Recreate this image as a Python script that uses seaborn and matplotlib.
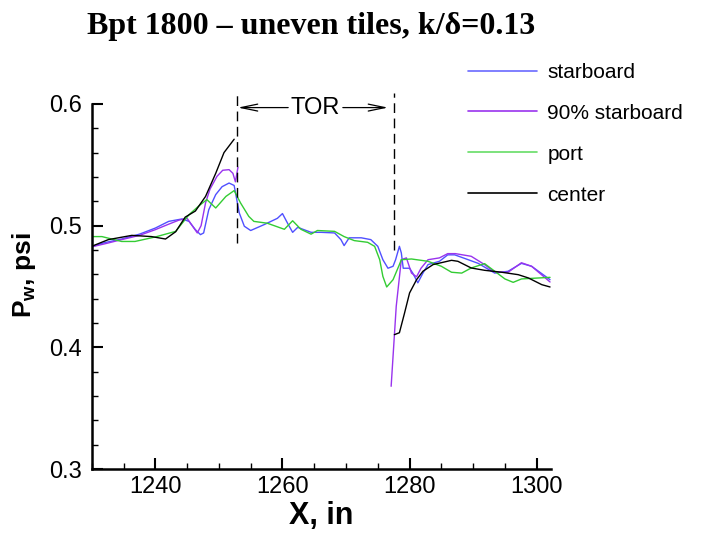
import numpy as np
import pandas as pd
import matplotlib
matplotlib.use("Agg")
import matplotlib.pyplot as plt
from matplotlib.ticker import MultipleLocator
from matplotlib.lines import Line2D
import seaborn as sns

# ---------------- data ----------------
title = "Bpt 1800 \u2013 uneven tiles, k/\u03b4=0.13"
series_names = ["starboard", "90% starboard", "port", "center"]
colors = ["#5050ff", "#9933ee", "#33cc33", "#000000"]
legend_colors = ["#6a6aff", "#9933ee", "#66dd66", "#000000"]

starboard_x = [1229.5, 1232, 1234.7, 1237.5, 1240, 1242.1, 1244.2, 1245.3, 1246.3, 1247.1, 1247.6,
               1248.4, 1249.5, 1250.5, 1251.6, 1252.4, 1253.2, 1254, 1255, 1257.1, 1259.2, 1260,
               1260.8, 1261.6, 1262.4, 1264.5, 1266.1, 1268.2, 1269.2, 1269.7, 1270.5, 1272.4,
               1273.9, 1275, 1275.8, 1276.6, 1277.4, 1277.8, 1278.4, 1278.7, 1279.0, 1280, 1280.5,
               1281.3, 1282.1, 1282.9, 1284.7, 1286, 1287.1, 1288.7, 1290.8, 1293.4, 1295.5,
               1297.6, 1299.2, 1302.1]
starboard_y = [0.482, 0.486, 0.489, 0.493, 0.498, 0.5035, 0.5055, 0.5035, 0.4967, 0.4926, 0.494,
               0.513, 0.5255, 0.532, 0.535, 0.533, 0.5105, 0.4995, 0.496, 0.5008, 0.506, 0.5099,
               0.502, 0.4945, 0.4986, 0.4945, 0.4945, 0.494, 0.4885, 0.4836, 0.490, 0.490,
               0.4885, 0.483, 0.472, 0.465, 0.4666, 0.472, 0.483, 0.4776, 0.465, 0.465, 0.461,
               0.453, 0.461, 0.468, 0.4707, 0.476, 0.476, 0.473, 0.469, 0.461, 0.4625,
               0.469, 0.4666, 0.4556]

sb90_x1 = [1229.5, 1232, 1234.7, 1237.5, 1240, 1242, 1243.7, 1245.0, 1245.8, 1246.6, 1247.2,
           1247.9, 1248.6, 1249.7, 1250.6, 1251.6, 1252.2, 1252.6, 1253.0]
sb90_y1 = [0.482, 0.485, 0.4885, 0.492, 0.4967, 0.501, 0.5045, 0.506, 0.500, 0.494, 0.500,
           0.5187, 0.530, 0.5405, 0.5455, 0.546, 0.543, 0.536, 0.548]
sb90_x2 = [1277.1, 1277.9, 1278.7, 1279.5, 1280.3, 1281.1, 1281.8, 1282.9, 1284.7, 1286, 1287.2,
           1289.7, 1291.8, 1293.4, 1295.5, 1297.6, 1299.2, 1302.1]
sb90_y2 = [0.368, 0.4337, 0.472, 0.4735, 0.461, 0.458, 0.465, 0.472, 0.4735, 0.477, 0.477,
           0.4748, 0.468, 0.4617, 0.4617, 0.4695, 0.4666, 0.4537]

port_x = [1229.5, 1231.6, 1234.7, 1236.8, 1240, 1243.2, 1245.3, 1246.8, 1248.1, 1249.5, 1251.1,
          1252.4, 1253.4, 1254.7, 1255.5, 1257.6, 1260.3, 1261.6, 1262.9, 1264.5, 1265.5, 1268.2,
          1269.7, 1271.3, 1273.4, 1274.5, 1275.3, 1275.8, 1276.4, 1277.4, 1278.4, 1278.7, 1280.3,
          1282.9, 1285, 1286.6, 1288.2, 1289.7, 1291.8, 1293.4, 1295, 1296.3, 1297.6, 1300.3, 1302.1]
port_y = [0.491, 0.491, 0.487, 0.487, 0.4907, 0.4953, 0.509, 0.516, 0.5214, 0.5145, 0.524,
          0.5288, 0.5187, 0.5076, 0.5035, 0.502, 0.497, 0.504, 0.497, 0.493, 0.496, 0.4953,
          0.491, 0.4877, 0.4863, 0.483, 0.472, 0.4583, 0.4496, 0.4556, 0.468, 0.472, 0.4726,
          0.4707, 0.4666, 0.4617, 0.461, 0.4652, 0.4688, 0.4625, 0.4562, 0.4534, 0.4562, 0.457, 0.4575]

center_x1 = [1229.5, 1232.6, 1236.3, 1239.4, 1241.6, 1243.2, 1244.7, 1246.3, 1247.9, 1249.5,
             1250.8, 1252.4]
center_y1 = [0.482, 0.4885, 0.492, 0.491, 0.489, 0.495, 0.507, 0.512, 0.524, 0.543, 0.560, 0.571]
center_x2 = [1277.6, 1278.4, 1279.2, 1280, 1281.1, 1282.1, 1283.7, 1286.6, 1287.6, 1289.7, 1291.8,
             1294.5, 1297.1, 1298.7, 1300.8, 1302.1]
center_y2 = [0.4104, 0.412, 0.428, 0.4447, 0.4556, 0.4625, 0.468, 0.4715, 0.4707, 0.4652, 0.4633,
             0.4617, 0.4597, 0.457, 0.4515, 0.4496]

tor_x = [1252.8, 1277.6]
tor_label = "TOR"
x_ticks = [1240, 1260, 1280, 1300]
y_ticks = [0.3, 0.4, 0.5, 0.6]

# ---------------- build table ----------------
segments = [
    ("starboard", "s1", starboard_x, starboard_y),
    ("90% starboard", "a1", sb90_x1, sb90_y1),
    ("90% starboard", "a2", sb90_x2, sb90_y2),
    ("port", "p1", port_x, port_y),
    ("center", "c1", center_x1, center_y1),
    ("center", "c2", center_x2, center_y2),
]
rows = []
for name, seg, xs, ys in segments:
    for xv, yv in zip(xs, ys):
        rows.append({"series": name, "segment": seg, "x": xv, "y": yv})
df = pd.DataFrame(rows)

# ---------------- style ----------------
sns.set_style("ticks")
plt.rcParams["font.family"] = ["Liberation Sans", "DejaVu Sans"]
plt.rcParams["mathtext.fontset"] = "custom"
plt.rcParams["mathtext.bf"] = "Liberation Sans:bold"
plt.rcParams["mathtext.rm"] = "Liberation Sans"
for k in ["text.color", "axes.labelcolor", "xtick.color", "ytick.color", "axes.edgecolor"]:
    plt.rcParams[k] = "black"

fig = plt.figure(figsize=(7.06, 5.33), dpi=100)
ax = fig.add_axes([0.130, 0.120, 0.650, 0.685])

sns.lineplot(data=df, x="x", y="y", hue="series", units="segment", estimator=None,
             sort=False, palette=dict(zip(series_names, colors)), hue_order=series_names,
             linewidth=1.0, legend=False, ax=ax)

ax.set_xlim(1230, 1302.2)
ax.set_ylim(0.3, 0.6)
ax.set_xticks(x_ticks)
ax.set_yticks(y_ticks)
ax.set_yticklabels(["0.3", "0.4", "0.5", "0.6"])
ax.xaxis.set_minor_locator(MultipleLocator(5))
ax.yaxis.set_minor_locator(MultipleLocator(0.02))
ax.tick_params(which="major", direction="in", length=8, width=1.5, labelsize=17, pad=5)
ax.tick_params(which="minor", direction="in", length=4.5, width=1.0)
ax.tick_params(axis="y", which="major", pad=7)
for s in ["top", "right"]:
    ax.spines[s].set_visible(False)
for s in ["left", "bottom"]:
    ax.spines[s].set_linewidth(1.8)

ax.set_xlabel("X, in", fontsize=22, fontweight="bold", labelpad=2)
ax.set_ylabel(r"P$_\mathbf{w}$, psi", fontsize=19, fontweight="bold")
ax.yaxis.set_label_coords(-0.118, 0.53)

# TOR region
ax.vlines(tor_x[0], 0.486, 0.609, colors="black", linewidth=1.0,
          linestyles=(0, (7, 4)), clip_on=False)
ax.vlines(tor_x[1], 0.480, 0.609, colors="black", linewidth=1.0,
          linestyles=(0, (7, 4)), clip_on=False)
ty = 0.597
tx = (tor_x[0] + tor_x[1]) / 2
ax.text(tx, ty, tor_label, fontsize=17, ha="center", va="center", clip_on=False)
arrow = dict(arrowstyle="->,head_length=1.2,head_width=0.25", color="black", lw=0.9,
             shrinkA=0, shrinkB=0)
ax.annotate("", xy=(tor_x[0] + 0.2, ty), xytext=(tx - 4.3, ty), arrowprops=arrow,
            annotation_clip=False)
ax.annotate("", xy=(tor_x[1] - 1.0, ty), xytext=(tx + 4.3, ty), arrowprops=arrow,
            annotation_clip=False)

# Legend
handles = [Line2D([0], [0], color=c, lw=1.2) for c in legend_colors]
fig.legend(handles, series_names, loc="upper left", bbox_to_anchor=(0.663, 0.882),
           frameon=False, fontsize=15, handlelength=3.3, handletextpad=0.5,
           labelspacing=1.05, borderpad=0, borderaxespad=0)

fig.text(0.441, 0.950, title, fontsize=23, fontweight="bold", ha="center", va="center",
         family=["Liberation Serif", "DejaVu Serif"])

fig.savefig("out.png", dpi=100)
